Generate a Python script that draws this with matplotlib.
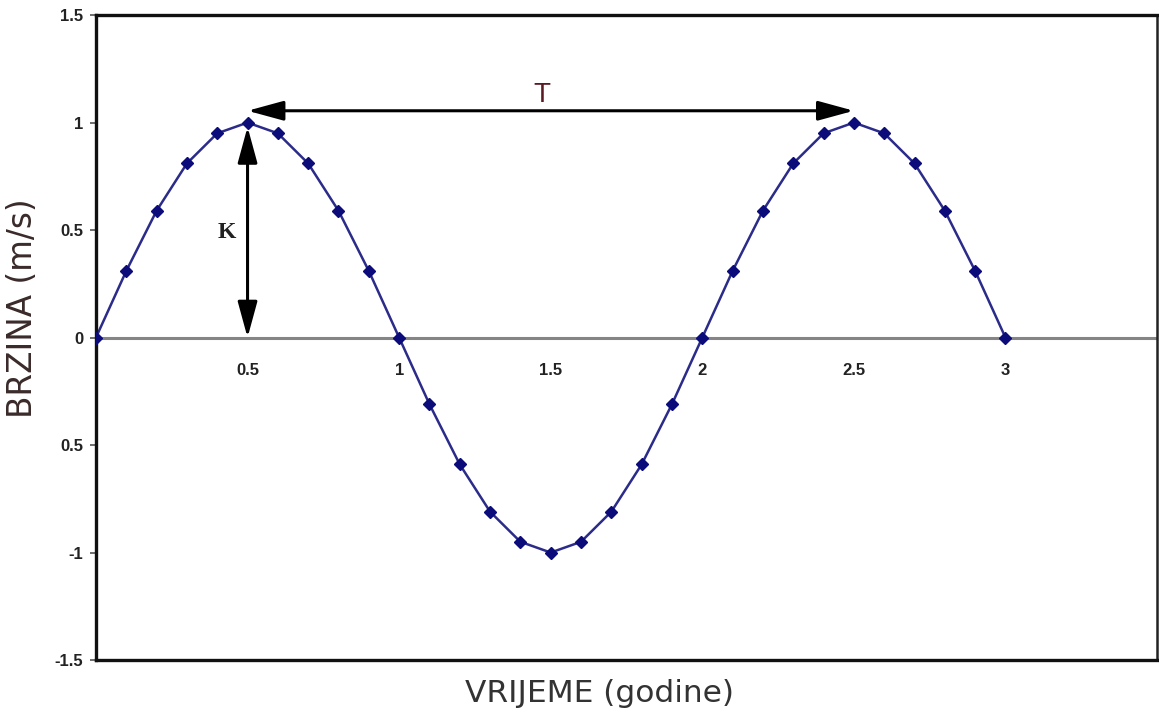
import matplotlib.pyplot as plt

# podaci: vrijeme (godine) i brzina (m/s)
vrijeme = [0.0, 0.1, 0.2, 0.3, 0.4, 0.5, 0.6, 0.7, 0.8, 0.9,
           1.0, 1.1, 1.2, 1.3, 1.4, 1.5, 1.6, 1.7, 1.8, 1.9,
           2.0, 2.1, 2.2, 2.3, 2.4, 2.5, 2.6, 2.7, 2.8, 2.9, 3.0]
brzina = [0, 0.31, 0.59, 0.81, 0.95, 1, 0.95, 0.81, 0.59, 0.31,
          0, -0.31, -0.59, -0.81, -0.95, -1, -0.95, -0.81, -0.59, -0.31,
          0, 0.31, 0.59, 0.81, 0.95, 1, 0.95, 0.81, 0.59, 0.31, 0]

x_ticks = [0.5, 1, 1.5, 2, 2.5, 3]
x_labels = ['0.5', '1', '1.5', '2', '2.5', '3']
y_ticks = [-1.5, -1, -0.5, 0, 0.5, 1, 1.5]
y_labels = ['-1.5', '-1', '0.5', '0', '0.5', '1', '1.5']

plt.rcParams['font.family'] = ['Liberation Sans', 'DejaVu Sans']

fig = plt.figure(figsize=(11.59, 7.19), dpi=100)
ax = fig.add_axes([0.0828, 0.082, 0.9155, 0.897])

# nul-linija
ax.axhline(0, color='#858585', lw=2.2, zorder=1)

ax.plot(vrijeme, brzina, color='#2b2b8a', lw=1.8, zorder=2)
ax.plot(vrijeme, brzina, 'D', color='#0b0b7a', ms=6.5, zorder=3)

ax.set_xlim(0, 3.5)
ax.set_ylim(-1.5, 1.5)

ax.set_xticks([])
ax.set_yticks(y_ticks)
ax.set_yticklabels(y_labels, fontsize=12, fontweight='bold', color='#222222')
ax.tick_params(axis='y', direction='out', length=4, width=1.2, pad=5, color='#555555')

for s in ['left', 'bottom', 'top']:
    ax.spines[s].set_linewidth(2.4)
    ax.spines[s].set_color('#111111')
ax.spines['right'].set_linewidth(1.8)
ax.spines['right'].set_color('#222222')

# oznake x osi ispod nul-linije
for xt, lab in zip(x_ticks, x_labels):
    ax.annotate(lab, xy=(xt, 0), xytext=(0, -24), textcoords='offset points',
                ha='center', va='center', fontsize=12, fontweight='bold',
                color='#222222', zorder=5)

# strelice T i K
strelica = dict(arrowstyle='<|-|>,head_length=1.1,head_width=0.3',
                color='black', lw=2.2, shrinkA=0, shrinkB=0, mutation_scale=20)
ax.annotate('', xy=(2.5, 1.055), xytext=(0.5, 1.055), arrowprops=strelica, zorder=4)
ax.annotate('', xy=(0.5, 0.98), xytext=(0.5, 0.0), arrowprops=strelica, zorder=4)

ax.text(1.47, 1.13, 'T', fontsize=20, color='#5a1a22', ha='center', va='center')
ax.text(0.43, 0.49, 'K', fontsize=17, color='#222222', ha='center', va='center',
        family='Liberation Serif', fontweight='bold')

fig.text(0.517, 0.036, 'VRIJEME (godine)', fontsize=22.5, color='#333333',
         ha='center', va='center', family='DejaVu Sans')
fig.text(0.019, 0.572, 'BRZINA (m/s)', fontsize=23.5, color='#3a2a2a',
         ha='center', va='center', rotation=90, family='DejaVu Sans')

plt.savefig('out.png', dpi=100)
